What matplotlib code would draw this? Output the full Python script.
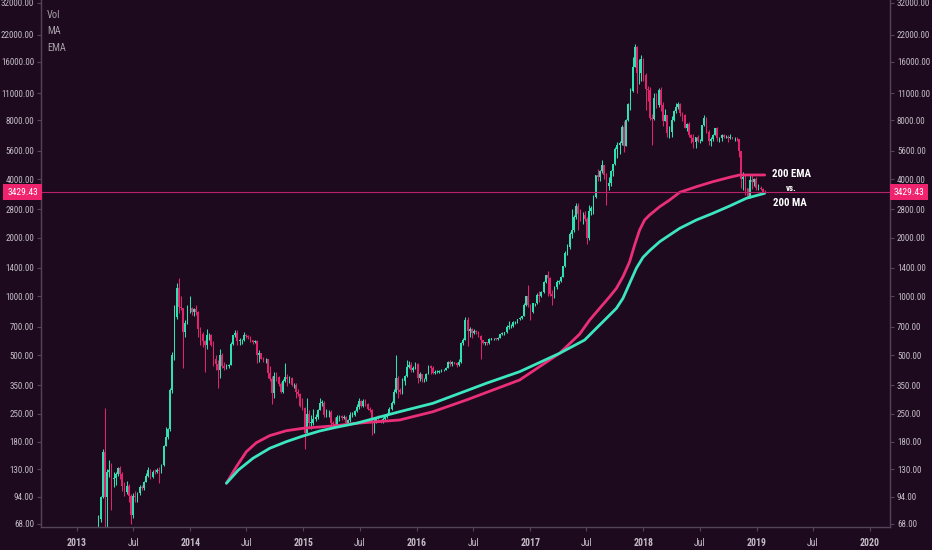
import matplotlib
matplotlib.use("Agg")
import matplotlib.pyplot as plt
from matplotlib import font_manager as fm
import pandas as pd

# weekly candles (close, high, low), first open given separately
first_open = 47
closes = [
    # 2013
    72, 93, 160, 93, 125, 128, 115, 117, 123, 131, 122, 106, 99, 107, 95, 76, 95, 94, 98, 105,
    104, 112, 120, 128, 118, 126, 125, 128, 127, 136, 170, 190, 210, 330, 500, 780, 1100, 880, 870, 660,
    730, 870,
    # 2014
    870, 830, 860, 830, 680, 640, 590, 560, 630, 630, 565, 480, 450, 420, 500, 440, 430, 440, 447, 570,
    630, 650, 590, 595, 595, 630, 625, 620, 595, 585, 590, 500, 510, 480, 475, 475, 405, 375, 320, 390,
    385, 355, 325, 370, 385, 375, 380, 350, 350, 325, 315, 275,
    # 2015
    268, 200, 250, 225, 225, 235, 240, 260, 285, 285, 245, 255, 255, 225, 222, 220, 240, 242, 238, 240,
    225, 232, 245, 245, 257, 270, 290, 275, 290, 280, 265, 260, 230, 230, 240, 232, 230, 235, 240, 250,
    265, 285, 325, 380, 330, 325, 370, 390, 435, 445, 420, 430,
    # 2016
    450, 380, 400, 375, 375, 400, 440, 430, 405, 410, 410, 415, 420, 420, 430, 460, 450, 460, 455, 445,
    460, 575, 600, 760, 665, 680, 650, 665, 660, 625, 600, 575, 580, 575, 605, 610, 610, 605, 615, 640,
    650, 655, 700, 705, 705, 740, 740, 765, 775, 790, 900, 1000,
    # 2017
    905, 830, 920, 920, 1020, 1000, 1050, 1180, 1280, 1240, 1030, 1010, 1120, 1190, 1200, 1260, 1430, 1670, 1800, 2100,
    2200, 2550, 2900, 2650, 2600, 2600, 2500, 2000, 2750, 2850, 3250, 4200, 4100, 4400, 4700, 4200, 3700, 3800, 4400, 4750,
    5700, 6000, 6100, 7400, 5900, 8000, 9700, 11300, 15000, 19100, 14000, 14000,
    # 2018
    16500, 13700, 11600, 11500, 8200, 8100, 10400, 9600, 11500, 9600, 7900, 8500, 6900, 7000, 8000, 8900, 9400, 9700, 8700, 8500,
    7350, 7700, 6700, 6500, 6200, 6600, 6250, 6300, 7600, 8200, 7000, 6300, 6400, 6700, 7300, 6500, 6500, 6700, 6600, 6600,
    6500, 6550, 6450, 6450, 6400, 5600, 4000, 4100, 3600, 3200, 3950, 3850, 4000,
    # 2019
    3600, 3600, 3550, 3450, 3429.43,
]
highs = [
    76, 95, 165, 266, 130, 145, 140, 125, 125, 133, 135, 125, 111, 113, 109, 97, 98, 100, 99, 108,
    108, 113, 124, 134, 130, 128, 130, 131, 134, 138, 172, 215, 212, 340, 520, 900, 1175, 1240, 1000, 870,
    760, 900,
    1000, 880, 870, 900, 840, 700, 660, 600, 680, 650, 640, 590, 500, 470, 540, 510, 460, 450, 450, 580,
    635, 670, 670, 615, 605, 655, 640, 630, 625, 600, 595, 595, 530, 515, 490, 485, 480, 440, 390, 410,
    410, 390, 365, 375, 455, 400, 390, 385, 360, 360, 335, 320,
    300, 270, 300, 260, 245, 265, 250, 265, 300, 295, 290, 265, 260, 260, 230, 240, 245, 245, 245, 245,
    242, 235, 255, 255, 260, 280, 300, 295, 298, 298, 285, 270, 265, 235, 240, 245, 235, 240, 242, 252,
    270, 290, 335, 500, 390, 340, 380, 395, 470, 465, 460, 440,
    460, 455, 410, 400, 380, 405, 445, 445, 440, 420, 420, 420, 425, 425, 432, 465, 470, 465, 462, 460,
    475, 585, 610, 780, 780, 700, 690, 680, 675, 665, 630, 600, 585, 585, 610, 615, 615, 612, 620, 645,
    655, 660, 710, 750, 720, 750, 750, 770, 780, 795, 920, 1010,
    1150, 910, 930, 930, 1040, 1060, 1060, 1200, 1290, 1350, 1260, 1080, 1130, 1220, 1220, 1270, 1440, 1700, 1850, 2150,
    2800, 2600, 3000, 3000, 2800, 2700, 2750, 2550, 2950, 2900, 3300, 4200, 4500, 4450, 4980, 4700, 4300, 4100, 4450, 4800,
    5850, 6200, 6300, 7600, 7900, 8100, 9800, 11700, 17000, 19800, 19200, 16500,
    17300, 16800, 14000, 12000, 11800, 8600, 11000, 11000, 11700, 11800, 9900, 9100, 8500, 7500, 8400, 9000, 9800, 9990, 9800, 8850,
    8600, 7750, 7800, 6800, 6800, 6600, 6750, 6450, 7600, 8500, 8300, 7150, 6600, 6800, 7300, 7400, 6600, 6800, 6800, 6700,
    6700, 6800, 6600, 6550, 6600, 6450, 5600, 4350, 4200, 3600, 4250, 4200, 4050,
    4100, 3750, 3700, 3600, 3500,
]
lows = [
    45, 70, 92, 55, 65, 118, 80, 105, 108, 120, 116, 100, 95, 97, 88, 68, 73, 88, 88, 96,
    102, 102, 111, 118, 116, 117, 123, 124, 110, 124, 135, 170, 185, 205, 320, 470, 770, 820, 850, 430,
    620, 720,
    820, 800, 790, 800, 620, 560, 550, 410, 540, 600, 555, 440, 420, 340, 380, 430, 420, 425, 430, 445,
    560, 620, 560, 565, 570, 590, 610, 605, 585, 570, 575, 455, 460, 475, 460, 455, 380, 370, 280, 300,
    370, 345, 320, 320, 365, 345, 360, 345, 340, 300, 310, 270,
    260, 165, 200, 215, 210, 218, 230, 235, 260, 275, 240, 240, 240, 218, 215, 217, 215, 230, 232, 235,
    222, 220, 228, 240, 242, 255, 265, 270, 270, 275, 260, 255, 195, 198, 225, 228, 225, 225, 233, 238,
    250, 262, 280, 320, 300, 315, 315, 350, 385, 430, 410, 410,
    425, 360, 370, 365, 365, 370, 398, 400, 400, 400, 405, 405, 410, 415, 418, 428, 440, 440, 448, 435,
    440, 455, 565, 600, 555, 620, 610, 645, 645, 620, 480, 570, 565, 565, 570, 600, 600, 598, 600, 610,
    635, 630, 650, 680, 690, 700, 725, 730, 760, 770, 790, 890,
    880, 760, 825, 890, 915, 940, 990, 1040, 1170, 1000, 1000, 900, 980, 1090, 1160, 1190, 1250, 1420, 1630, 1750,
    2000, 2150, 2500, 2200, 2450, 2350, 2450, 1850, 1950, 2600, 2650, 3200, 3900, 3900, 4300, 4000, 2950, 3500, 3700, 4150,
    4700, 5100, 5400, 6000, 5500, 5900, 7900, 9000, 11200, 15000, 11000, 12300,
    12800, 12800, 9000, 10000, 8000, 6000, 8000, 9300, 9400, 8900, 7500, 7900, 6600, 6500, 6600, 7900, 8700, 9100, 8400, 7900,
    7300, 7050, 6600, 6100, 5800, 5800, 6200, 6100, 6300, 7500, 6900, 6000, 5900, 6300, 6700, 6300, 6200, 6300, 6500, 6500,
    6200, 6450, 6400, 6300, 6300, 5200, 3600, 3500, 3300, 3200, 3200, 3550, 3700,
    3500, 3500, 3500, 3400, 3380,
]
assert len(closes) == len(highs) == len(lows)

# 200 MA / 200 EMA (decimal year, price)
ma_years = [2014.319, 2014.425, 2014.553, 2014.701, 2014.848, 2014.995, 2015.142, 2015.289, 2015.466, 2015.672,
            2015.848, 2016.142, 2016.613, 2016.907, 2017.260, 2017.481, 2017.584, 2017.673, 2017.761, 2017.819,
            2017.878, 2017.937, 2017.996, 2018.054, 2018.143, 2018.231, 2018.320, 2018.467, 2018.613, 2018.761,
            2018.908, 2019.070]
ma_values = [110, 128.7, 147.7, 166.2, 179.8, 192.2, 203.9, 213.1, 223.4, 240.6,
             256.1, 282.9, 358.3, 410.9, 510.7, 597.5, 686, 772, 868.6, 978,
             1167, 1394, 1587, 1716, 1908, 2065, 2235, 2466, 2669, 2909,
             3186, 3380]
ema_years = [2014.319, 2014.407, 2014.495, 2014.583, 2014.701, 2014.848, 2014.995, 2015.142, 2015.289, 2015.466,
             2015.848, 2016.142, 2016.437, 2016.907, 2017.260, 2017.437, 2017.525, 2017.613, 2017.701, 2017.761,
             2017.819, 2017.878, 2017.922, 2017.966, 2018.010, 2018.054, 2018.143, 2018.231, 2018.320, 2018.467,
             2018.613, 2018.761, 2018.849, 2019.070]
ema_values = [110, 133.7, 159.7, 177.6, 193.0, 204.6, 210.5, 213.8, 217.2, 223.4,
              232.2, 256.1, 294.1, 372.5, 510.7, 641, 756.6, 868.6, 996, 1100,
              1262, 1507, 1835, 2191, 2466, 2615, 2884, 3122, 3420, 3653,
              3877, 4083, 4196, 4196]

last_price = 3429.43
y_ticks = [68, 94, 130, 180, 250, 350, 500, 700, 1000, 1400, 2000, 2800, 4000, 5600, 8000, 11000, 16000, 22000, 32000]
x_tick_dates = ['2013-01-01', '2013-07-01', '2014-01-01', '2014-07-01', '2015-01-01', '2015-07-01', '2016-01-01',
                '2016-07-01', '2017-01-01', '2017-07-01', '2018-01-01', '2018-07-01', '2019-01-01', '2019-07-01',
                '2020-01-01']
x_tick_labels = ['2013', 'Jul', '2014', 'Jul', '2015', 'Jul', '2016', 'Jul', '2017', 'Jul', '2018', 'Jul', '2019',
                 'Jul', '2020']

bg = '#1d0a1e'
up_col = '#2ee0b2'
down_col = '#e0246c'
ma_col = '#3ce6c0'
ema_col = '#ea2f78'
txt_col = '#c4bcc6'
axis_col = '#54445a'


def find_narrow(bold):
    # look for an installed condensed / narrow face, else fall back
    order = ['Liberation Sans Narrow', 'Roboto Condensed', 'Noto Sans', 'Open Sans', 'DejaVu Sans', 'Roboto']
    found = []
    for f in fm.fontManager.ttflist:
        st = str(f.stretch).lower()
        narrow_name = ('Narrow' in f.name or 'Condensed' in f.name
                       or 'Condensed' in f.fname or 'Narrow' in f.fname)
        narrow_st = st in ('condensed', 'semi-condensed')
        if not (narrow_name or narrow_st):
            continue
        if 'ExtraCondensed' in f.fname or 'extra' in st or 'ultra' in st:
            continue
        if f.style != 'normal':
            continue
        w = f.weight
        if isinstance(w, str):
            w = 700 if 'bold' in w.lower() else 400
        if bold and w != 700:
            continue
        if not bold and w != 400:
            continue
        rank = order.index(f.name) if f.name in order else len(order)
        found.append((rank, f.fname))
    if found:
        found.sort()
        return fm.FontProperties(fname=found[0][1]), True
    return fm.FontProperties(family='Liberation Sans', weight='bold' if bold else 'normal'), False


base_fp, is_narrow = find_narrow(False)
bold_fp, _ = find_narrow(True)
k = 1.0 if is_narrow else 0.84


def fp(src, size):
    p = src.copy()
    p.set_size(size * k)
    return p


def to_date(y):
    return pd.Timestamp('2013-01-01') + pd.to_timedelta((y - 2013) * 365.25, unit='D')


dates = pd.date_range('2013-03-11', periods=len(closes), freq='7D')
opens = [first_open] + closes[:-1]

fig = plt.figure(figsize=(9.32, 5.5), dpi=100, facecolor=bg)
ax = fig.add_axes([41 / 932, 23 / 550, 849 / 932, 527 / 550])
ax.set_facecolor(bg)

for d, o, h, l, c in zip(dates, opens, highs, lows, closes):
    col = up_col if c >= o else down_col
    ax.vlines(d, l, h, color=col, linewidth=0.75)
    ax.bar(d, max(abs(c - o), 0.5), bottom=min(o, c), width=5.5, color=col, linewidth=0)

ax.plot([to_date(y) for y in ema_years], ema_values, color=ema_col, linewidth=2, solid_capstyle='round')
ax.plot([to_date(y) for y in ma_years], ma_values, color=ma_col, linewidth=2, solid_capstyle='round')

ax.axhline(last_price, color='#b8226a', linewidth=0.8)

ax.set_yscale('log')
ax.set_ylim(65.6, 33150)
ax.set_xlim(pd.Timestamp('2012-09-07'), pd.Timestamp('2020-03-06'))
ax.set_yticks(y_ticks)
ax.set_yticklabels([f"{v:.2f}" for v in y_ticks])
ax.yaxis.set_minor_locator(matplotlib.ticker.NullLocator())
ax.set_xticks(pd.to_datetime(x_tick_dates))
ax.set_xticklabels(x_tick_labels)

ax.tick_params(axis='y', which='both', left=True, right=True, labelleft=True, labelright=True,
               colors=axis_col, labelcolor=txt_col, length=3, width=0.8, pad=2)
ax.tick_params(axis='x', colors=axis_col, labelcolor=txt_col, length=3, width=0.8, pad=5)
for t in ax.yaxis.get_major_ticks():
    t.label1.set_fontproperties(fp(base_fp, 6.5))
    t.label2.set_fontproperties(fp(base_fp, 6.5))
for lab in ax.get_xticklabels():
    lab.set_fontproperties(fp(base_fp if lab.get_text() == 'Jul' else bold_fp, 7))

for s in ['left', 'right', 'bottom']:
    ax.spines[s].set_color(axis_col)
    ax.spines[s].set_linewidth(1)
ax.spines['top'].set_visible(False)

# price tags on both axes
yt = ax.get_yaxis_transform()
for xc in [-0.0218, 1.0225]:
    ax.text(xc, last_price, f"{last_price:.2f}", transform=yt, ha='center', va='center', color='white',
            fontproperties=fp(base_fp, 6.8), clip_on=False,
            bbox=dict(boxstyle='square,pad=0.4', facecolor='#f0246e', edgecolor='none'))

# indicator names top left
for i, name in enumerate(['Vol', 'MA', 'EMA']):
    ax.text(6 / 849, 1 - (15 + 16.5 * i) / 527, name, transform=ax.transAxes, ha='left', va='center',
            color='#a89ea8', fontproperties=fp(base_fp, 7.5))

# annotations
ax.text(to_date(2019.304), 4246, '200 EMA', color='white', fontproperties=fp(bold_fp, 7.8),
        ha='center', va='center')
ax.text(to_date(2019.304), 3556, 'vs.', color='white', fontproperties=fp(bold_fp, 6.5),
        ha='center', va='center')
ax.text(to_date(2019.295), 3024, '200 MA', color='white', fontproperties=fp(bold_fp, 7.8),
        ha='center', va='center')

fig.savefig('out.png', dpi=100, facecolor=bg)
